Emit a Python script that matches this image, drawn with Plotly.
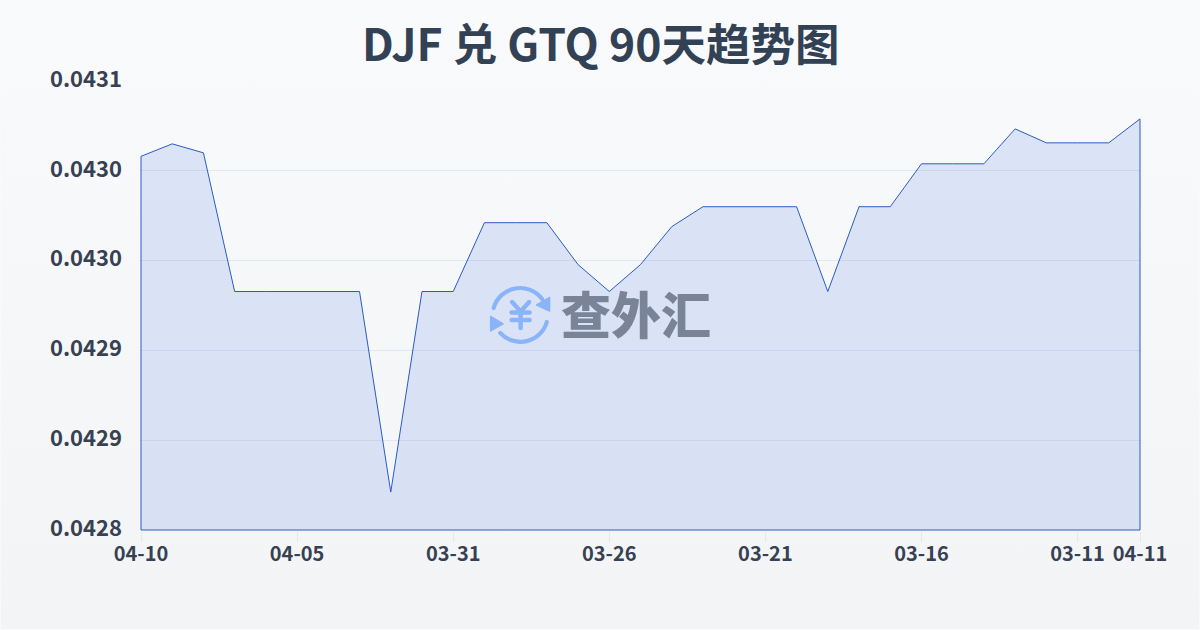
import base64
import plotly.graph_objects as go

dates = ["04-10","04-09","04-08","04-07","04-06","04-05","04-04","04-03","04-02","04-01","03-31",
         "03-30","03-29","03-28","03-27","03-26","03-25","03-24","03-23","03-22","03-21",
         "03-20","03-19","03-18","03-17","03-16","03-15","03-14","03-13","03-12","03-11","03-10","04-11"]
rates = [0.04300806,0.043015,0.04301,0.04293278,0.04293278,0.04293278,0.04293278,0.04293278,0.04282111,0.04293278,0.04293278,
         0.04297111,0.04297111,0.04297111,0.04294778,0.04293278,0.04294778,0.04296889,0.04298,0.04298,0.04298,
         0.04298,0.04293278,0.04298,0.04298,0.04300389,0.04300389,0.04300389,0.04302333,0.04301556,0.04301556,0.04301556,0.04302889]
y_ticks = [0.0428,0.04285,0.0429,0.04295,0.0430,0.04305]
y_labels = ["0.0428","0.0429","0.0429","0.0430","0.0430","0.0431"]
x_ticks = ["04-10","04-05","03-31","03-26","03-21","03-16","03-11","04-11"]
title = "DJF 兑 GTQ 90天趋势图"
y_min, y_max = 0.0428, 0.04305

W, H = 1200, 630
PAD = 1.0  # px of breathing room so the area outline is not clipped at the plot edge
L, R, T, B = 140.5 - PAD, 59.5 - PAD, 80.5 - PAD, 99.5 - PAD

def uri(svg):
    return "data:image/svg+xml;base64," + base64.b64encode(svg.encode()).decode()

bg_svg = f'''<svg xmlns="http://www.w3.org/2000/svg" width="{W}" height="{H}" preserveAspectRatio="none">
<defs><linearGradient id="g" x1="0" y1="0" x2="0" y2="1"><stop offset="0" stop-color="#f8fafc"/><stop offset="1" stop-color="#f3f4f6"/></linearGradient></defs>
<rect width="{W}" height="{H}" fill="url(#g)"/></svg>'''

logo_svg = '''<svg xmlns="http://www.w3.org/2000/svg" width="80" height="80" viewBox="0 0 80 80">
<g fill="none" stroke="#8ab4f8" stroke-linecap="round" stroke-width="4.2">
<path d="M13.5 33 A27.5 27.5 0 0 1 62 24"/><path d="M66.7 47 A27.5 27.5 0 0 1 20 58"/>
<path d="M32 27 L40.5 36.5 L49 27" stroke-width="4.5"/><path d="M31.5 37.5 H49.5" stroke-width="4.5"/><path d="M31.5 45 H49.5" stroke-width="4.5"/><path d="M40.5 37 V53" stroke-width="4.5"/></g>
<g fill="#8ab4f8" stroke="#8ab4f8" stroke-width="1.5" stroke-linejoin="round"><path d="M69.5 22.5 L69.5 36 L56.5 30 Z"/>
<path d="M10.5 41.5 L10.5 56 L23 49 Z"/></g></svg>'''

pw, ph = W - L - R, H - T - B
def px(x): return (x - L) / pw
def py(y): return 1 - (y - T) / ph
xpad = PAD * (len(dates) - 1) / (pw - 2 * PAD)
ypad = PAD * (y_max - y_min) / (ph - 2 * PAD)

fig = go.Figure()
fig.add_trace(go.Scatter(
    x=dates + [dates[-1], dates[0], dates[0]],
    y=rates + [y_min, y_min, rates[0]],
    mode="lines", fill="toself", cliponaxis=False,
    line=dict(color="#2a5cc0", width=1),
    fillcolor="rgba(60,110,230,0.15)",
    hoverinfo="skip", showlegend=False,
))

font = "Noto Sans CJK SC, sans-serif"
fig.update_layout(
    width=W, height=H,
    margin=dict(l=L, r=R, t=T, b=B, pad=0),
    paper_bgcolor="#f8fafc", plot_bgcolor="rgba(0,0,0,0)",
    showlegend=False,
    xaxis=dict(type="category", categoryorder="array", categoryarray=dates,
               range=[-xpad, len(dates) - 1 + xpad], tickmode="array", tickvals=x_ticks, ticktext=x_ticks,
               ticks="outside", ticklen=10, tickcolor="#e2e8f0", tickwidth=1,
               showgrid=False, zeroline=False, showline=False, ticklabelstandoff=-5,
               tickfont=dict(family=font, size=20, color="#374151", weight=700)),
    yaxis=dict(range=[y_min - ypad, y_max + ypad], tickmode="array", tickvals=y_ticks, ticktext=y_labels,
               ticks="", showgrid=True, gridcolor="#e2e8f0", gridwidth=1, zeroline=False, showline=False,
               ticklabelstandoff=17, ticklabelshift=-2,
               tickfont=dict(family=font, size=22, color="#374151", weight=700)),
    images=[
        dict(source=uri(bg_svg), xref="paper", yref="paper", x=px(0), y=py(0),
             sizex=W / pw, sizey=H / ph, sizing="stretch", xanchor="left", yanchor="top", layer="below"),
        dict(source=uri(logo_svg), xref="paper", yref="paper", x=px(480), y=py(275),
             sizex=80 / pw, sizey=80 / ph, sizing="stretch", xanchor="left", yanchor="top", layer="above"),
    ],
    annotations=[
        dict(text=title, xref="paper", yref="paper", x=px(600), y=py(41), xanchor="center", yanchor="middle",
             showarrow=False, font=dict(family=font, size=44.5, color="#334155", weight=700)),
        dict(text="查外汇", xref="paper", yref="paper", x=px(636), y=py(312), xanchor="center", yanchor="middle",
             showarrow=False, font=dict(family=font, size=50, color="#7a8499", weight=900)),
    ],
)
fig.write_html("out.html", config=dict(displayModeBar=False), post_script="document.body.style.margin='0';")
